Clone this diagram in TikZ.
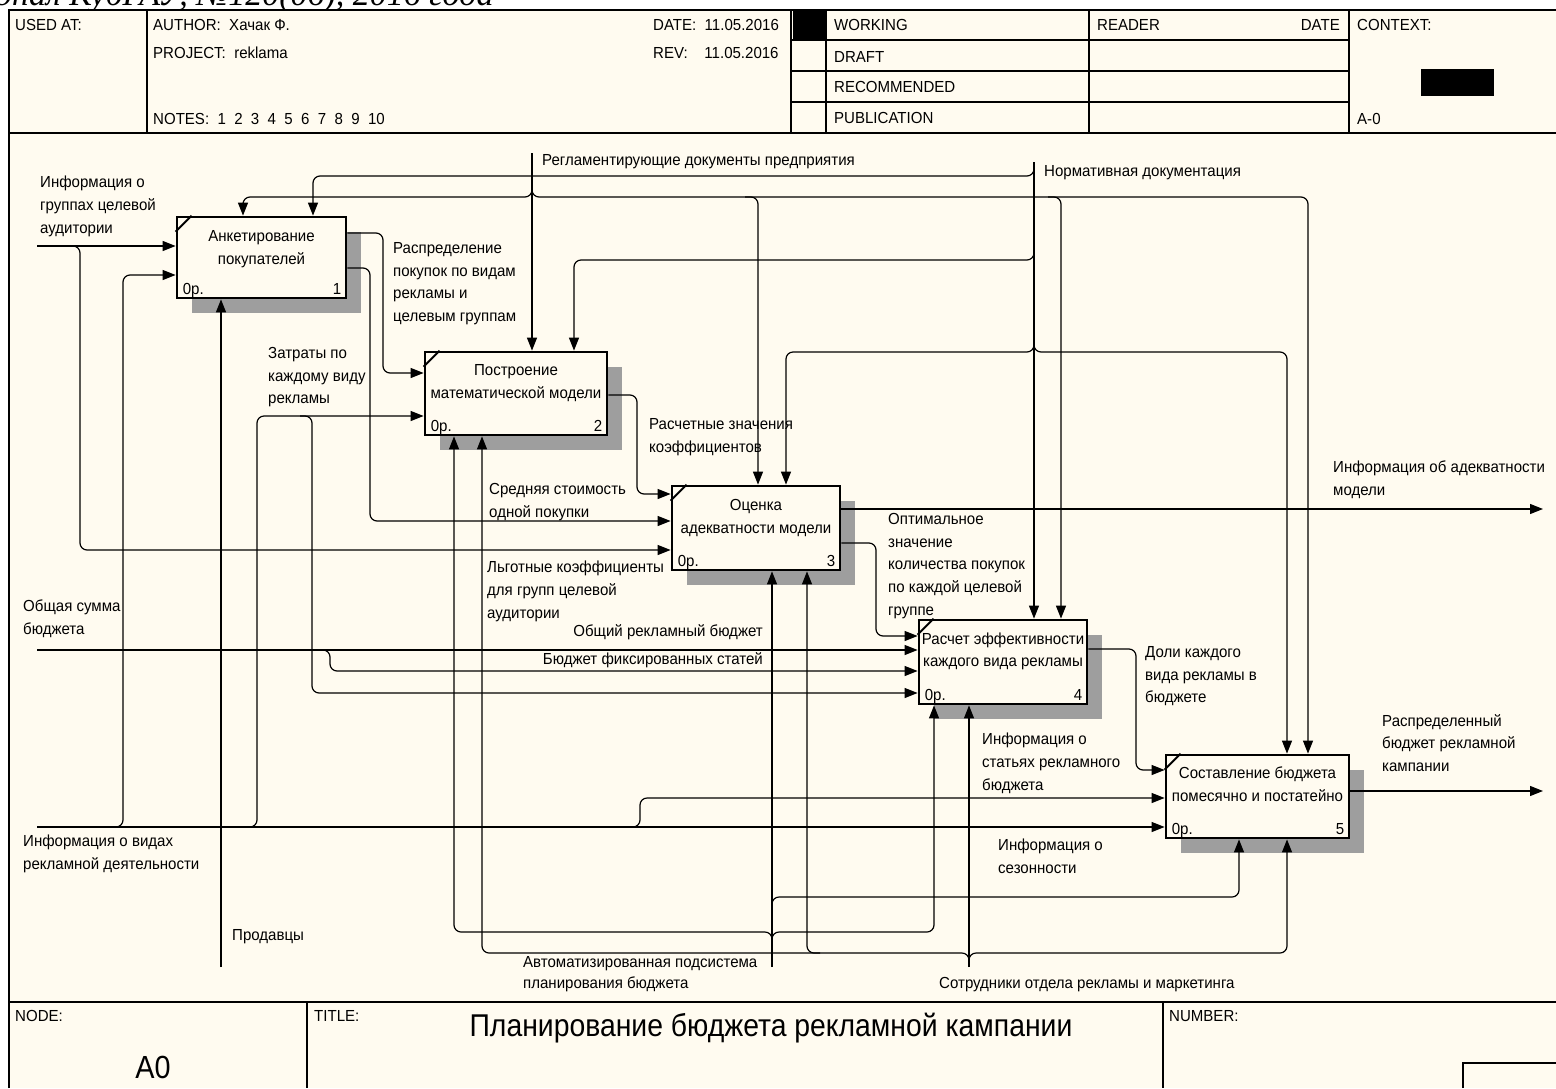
\documentclass[tikz,border=0pt]{standalone}
\usepackage{fontspec}
\setmainfont[FakeStretch=0.94]{Liberation Sans}
\newfontfamily\titlefont[FakeStretch=0.9]{Liberation Sans}
\newfontfamily\pagefont{Liberation Serif}
\usetikzlibrary{arrows.meta,shadows}
\definecolor{paper}{RGB}{255,251,240}
\tikzset{
  arr/.style={-{Triangle[length=13pt,width=10pt]}, line width=1.2pt, rounded corners=7pt},
  frm/.style={line width=1.6pt},
  func/.style={draw, line width=2.8pt, fill=paper, inner sep=0pt,
    drop shadow={shadow xshift=15pt, shadow yshift=-15pt, fill=black!38, opacity=1}},
  fname/.style={anchor=north, align=center, inner sep=0pt, font=\fontsize{16}{22.5}\selectfont},
  fnum/.style={inner sep=0pt, font=\fontsize{16}{18}\selectfont},
  lbl/.style={anchor=north west, align=left, inner sep=0pt, font=\fontsize{16}{22.8}\selectfont},
  lbl1/.style={anchor=base west, inner sep=0pt, font=\fontsize{16}{18}\selectfont},
  hdr/.style={anchor=base west, inner sep=0pt, font=\fontsize{16}{18}\selectfont},
}
\begin{document}
\begin{tikzpicture}[x=1pt,y=-1pt]
    \useasboundingbox (0,0) rectangle (1556,1088);
    \fill[white] (0,0) rectangle (1556,1088);
    \fill[paper] (9,10) rectangle (1556,1088);

    \begin{scope}
      \clip (0,0) rectangle (1556,9);
      \node[anchor=base west, inner sep=0pt, font=\pagefont\itshape\fontsize{34}{36}\selectfont] (pg) at (-5,5) {рнал КубГАУ, №120(06), 2016 года};
    \end{scope}

    % header
    \draw[frm] (9,1088) -- (9,10) -- (1556,10);
    \draw[frm] (9,133) -- (1556,133);
    \draw[frm] (147,10) -- (147,133);
    \draw[frm] (791,10) -- (791,133);
    \draw[frm] (826,10) -- (826,133);
    \draw[frm] (1089,10) -- (1089,133);
    \draw[frm] (1349,10) -- (1349,133);
    \draw[frm] (791,40) -- (1349,40);
    \draw[frm] (791,71) -- (1349,71);
    \draw[frm] (791,102) -- (1349,102);
    \fill (793,11) rectangle (826,40);
    \fill (1421,69) rectangle (1494,96);

    \node[hdr] (h1) at (15,30) {USED AT:};
    \node[hdr] (h2) at (153,30) {AUTHOR:\ \ Хачак Ф.};
    \node[hdr] (h3) at (153,58) {PROJECT:\ \ reklama};
    \node[hdr] (h4) at (153,124) {NOTES:\ \ 1\ \ 2\ \ 3\ \ 4\ \ 5\ \ 6\ \ 7\ \ 8\ \ 9\ \ 10};
    \node[hdr] (h5) at (653,30) {DATE:\ \ 11.05.2016};
    \node[hdr] (h6) at (653,58) {REV:\ \ \ \ 11.05.2016};
    \node[hdr] (h7) at (834,30) {WORKING};
    \node[hdr] (h8) at (834,62) {DRAFT};
    \node[hdr] (h9) at (834,92) {RECOMMENDED};
    \node[hdr] (h10) at (834,123) {PUBLICATION};
    \node[hdr] (h11) at (1097,30) {READER};
    \node[hdr, anchor=base east] (h12) at (1340,30) {DATE};
    \node[hdr] (h13) at (1357,30) {CONTEXT:};
    \node[hdr] (h14) at (1357,124) {A-0};

    % footer
    \draw[frm] (9,1002) -- (1556,1002);
    \draw[frm] (307,1002) -- (307,1088);
    \draw[frm] (1163,1002) -- (1163,1088);
    \draw[frm] (1463,1088) -- (1463,1063) -- (1556,1063);
    \node[hdr] (f1) at (15,1021) {NODE:};
    \node[hdr] (f2) at (314,1021) {TITLE:};
    \node[hdr] (f3) at (1169,1021) {NUMBER:};
    \node[inner sep=0pt, font=\titlefont\fontsize{32}{36}\selectfont] (f4) at (153,1067) {A0};
    \node[inner sep=0pt, font=\titlefont\fontsize{31.5}{36}\selectfont] (f5) at (771,1028) {Планирование бюджета рекламной кампании};

    % activity boxes
    \node[func, minimum width=169pt, minimum height=81pt] (A1) at (261.5,257.5) {};
    \node[func, minimum width=182pt, minimum height=83pt] (A2) at (516,393.5) {};
    \node[func, minimum width=168pt, minimum height=84pt] (A3) at (756,528) {};
    \node[func, minimum width=168pt, minimum height=84pt] (A4) at (1003,662) {};
    \node[func, minimum width=183pt, minimum height=83pt] (A5) at (1257.5,796.5) {};

    \draw[line width=2pt] ([yshift=-16pt]A1.north west) -- ([xshift=16pt]A1.north west);
    \draw[line width=2pt] ([yshift=-16pt]A2.north west) -- ([xshift=16pt]A2.north west);
    \draw[line width=2pt] ([yshift=-16pt]A3.north west) -- ([xshift=16pt]A3.north west);
    \draw[line width=2pt] ([yshift=-16pt]A4.north west) -- ([xshift=16pt]A4.north west);
    \draw[line width=2pt] ([yshift=-16pt]A5.north west) -- ([xshift=16pt]A5.north west);

    \node[fname] (n1) at ([yshift=-15pt]A1.north) {Анкетирование\\покупателей};
    \node[fname] (n2) at ([yshift=-14pt]A2.north) {Построение\\математической модели};
    \node[fname] (n3) at ([yshift=-15pt]A3.north) {Оценка\\адекватности модели};
    \node[fname] (n4) at ([yshift=-14pt]A4.north) {Расчет эффективности\\каждого вида рекламы};
    \node[fname] (n5) at ([yshift=-13pt]A5.north) {Составление бюджета\\помесячно и постатейно};

    \node[fnum, anchor=base west] (p1) at ([xshift=7pt,yshift=5pt]A1.south west) {0р.};
    \node[fnum, anchor=base east] (k1) at ([xshift=-6pt,yshift=5pt]A1.south east) {1};
    \node[fnum, anchor=base west] (p2) at ([xshift=7pt,yshift=5pt]A2.south west) {0р.};
    \node[fnum, anchor=base east] (k2) at ([xshift=-6pt,yshift=5pt]A2.south east) {2};
    \node[fnum, anchor=base west] (p3) at ([xshift=7pt,yshift=5pt]A3.south west) {0р.};
    \node[fnum, anchor=base east] (k3) at ([xshift=-6pt,yshift=5pt]A3.south east) {3};
    \node[fnum, anchor=base west] (p4) at ([xshift=7pt,yshift=5pt]A4.south west) {0р.};
    \node[fnum, anchor=base east] (k4) at ([xshift=-6pt,yshift=5pt]A4.south east) {4};
    \node[fnum, anchor=base west] (p5) at ([xshift=7pt,yshift=5pt]A5.south west) {0р.};
    \node[fnum, anchor=base east] (k5) at ([xshift=-6pt,yshift=5pt]A5.south east) {5};

    \coordinate (I1) at (37,246);
    \coordinate (I2) at (37,650);
    \coordinate (I3) at (37,827);
    \coordinate (C1) at (532,153);
    \coordinate (C2) at (1034,162);
    \coordinate (M1) at (221,967);
    \coordinate (M2) at (772,967);
    \coordinate (M3) at (969,967);
    \coordinate (O1) at (1543,509);
    \coordinate (O2) at (1543,791);

    % inputs
    \draw[arr] (I1) -- (A1.west |- I1);
    \draw[arr] (70,246) -- (80,246) -- (80,550) -- (A3.west |- 0,550);
    \draw[arr] (I2) -- (A4.west |- I2);
    \draw[arr] (318,650) -- (330,650) -- (330,671) -- (A4.west |- 0,671);
    \draw[arr] (I3) -- (A5.west |- I3);
    \draw[arr] (110,827) -- (123,827) -- (123,275) -- (A1.west |- 0,275);
    \draw[arr] (245,827) -- (257,827) -- (257,416) -- (A2.west |- 0,416);
    \draw[arr] (300,416) -- (312,416) -- (312,693) -- (A4.west |- 0,693);
    \draw[arr] (627,827) -- (640,827) -- (640,798) -- (A5.west |- 0,798);

    % controls
    \draw[arr] (C1) -- (532,0 |- A2.north);
    \draw[arr] (532,182) -- (532,197) -- (243,197) -- (243,0 |- A1.north);
    \draw[arr] (532,182) -- (532,197) -- (1308,197) -- (1308,0 |- A5.north);
    \draw[arr] (745,197) -- (758,197) -- (758,0 |- A3.north);
    \draw[arr] (1048,197) -- (1061,197) -- (1061,0 |- A4.north);
    \draw[arr] (C2) -- (1034,0 |- A4.north);
    \draw[arr] (1034,164) -- (1034,176) -- (313,176) -- (313,0 |- A1.north);
    \draw[arr] (1034,248) -- (1034,260) -- (574,260) -- (574,0 |- A2.north);
    \draw[arr] (1034,340) -- (1034,352) -- (786,352) -- (786,0 |- A3.north);
    \draw[arr] (1034,340) -- (1034,352) -- (1287,352) -- (1287,0 |- A5.north);

    % outputs
    \draw[arr] (A1.east |- 0,233) -- (383,233) -- (383,373) -- (A2.west |- 0,373);
    \draw[arr] (A1.east |- 0,268) -- (370,268) -- (370,521) -- (A3.west |- 0,521);
    \draw[arr] (A2.east |- 0,395) -- (637,395) -- (637,494) -- (A3.west |- 0,494);
    \draw[arr] (A3.east |- 0,509) -- (O1);
    \draw[arr] (A3.east |- 0,543) -- (876,543) -- (876,636) -- (A4.west |- 0,636);
    \draw[arr] (A4.east |- 0,649) -- (1136,649) -- (1136,770) -- (A5.west |- 0,770);
    \draw[arr] (A5.east |- 0,791) -- (O2);

    % mechanisms
    \draw[arr] (M1) -- (221,0 |- A1.south);
    \draw[arr] (M2) -- (772,0 |- A3.south);
    \draw[arr] (772,945) -- (772,932) -- (454,932) -- (454,0 |- A2.south);
    \draw[arr] (772,945) -- (772,932) -- (934,932) -- (934,0 |- A4.south);
    \draw[arr] (772,910) -- (772,897) -- (1239,897) -- (1239,0 |- A5.south);
    \draw[arr] (M3) -- (969,0 |- A4.south);
    \draw[arr] (969,966) -- (969,953) -- (482,953) -- (482,0 |- A2.south);
    \draw[arr] (969,966) -- (969,953) -- (1287,953) -- (1287,0 |- A5.south);
    \draw[arr] (820,953) -- (807,953) -- (807,0 |- A3.south);

    % labels
    \node[lbl] (t1) at (40,176) {Информация о\\группах целевой\\аудитории};
    \node[lbl1] (t2) at (542,165) {Регламентирующие документы предприятия};
    \node[lbl1] (t3) at (1044,176) {Нормативная документация};
    \node[lbl] (t4) at (393,242) {Распределение\\покупок по видам\\рекламы и\\целевым группам};
    \node[lbl] (t5) at (268,347) {Затраты по\\каждому виду\\рекламы};
    \node[lbl] (t6) at (649,418) {Расчетные значения\\коэффициентов};
    \node[lbl] (t7) at (489,483) {Средняя стоимость\\одной покупки};
    \node[lbl] (t8) at (487,561) {Льготные коэффициенты\\для групп целевой\\аудитории};
    \node[lbl] (t9) at (888,513) {Оптимальное\\значение\\количества покупок\\по каждой целевой\\группе};
    \node[lbl] (t10) at (1333,461) {Информация об адекватности\\модели};
    \node[lbl] (t11) at (23,600) {Общая сумма\\бюджета};
    \node[lbl1, anchor=base east] (t12) at (763,636) {Общий рекламный бюджет};
    \node[lbl1, anchor=base east] (t13) at (763,664) {Бюджет фиксированных статей};
    \node[lbl] (t14) at (1145,646) {Доли каждого\\вида рекламы в\\бюджете};
    \node[lbl] (t15) at (982,733) {Информация о\\статьях рекламного\\бюджета};
    \node[lbl] (t16) at (1382,714) {Распределенный\\бюджет рекламной\\кампании};
    \node[lbl] (t17) at (23,835) {Информация о видах\\рекламной деятельности};
    \node[lbl] (t18) at (998,839) {Информация о\\сезонности};
    \node[lbl1] (t19) at (232,940) {Продавцы};
    \node[lbl, font=\fontsize{16}{21.5}\selectfont] (t20) at (523,956) {Автоматизированная подсистема\\планирования бюджета};
    \node[lbl1] (t21) at (939,988) {Сотрудники отдела рекламы и маркетинга};
  \end{tikzpicture}
\end{document}
